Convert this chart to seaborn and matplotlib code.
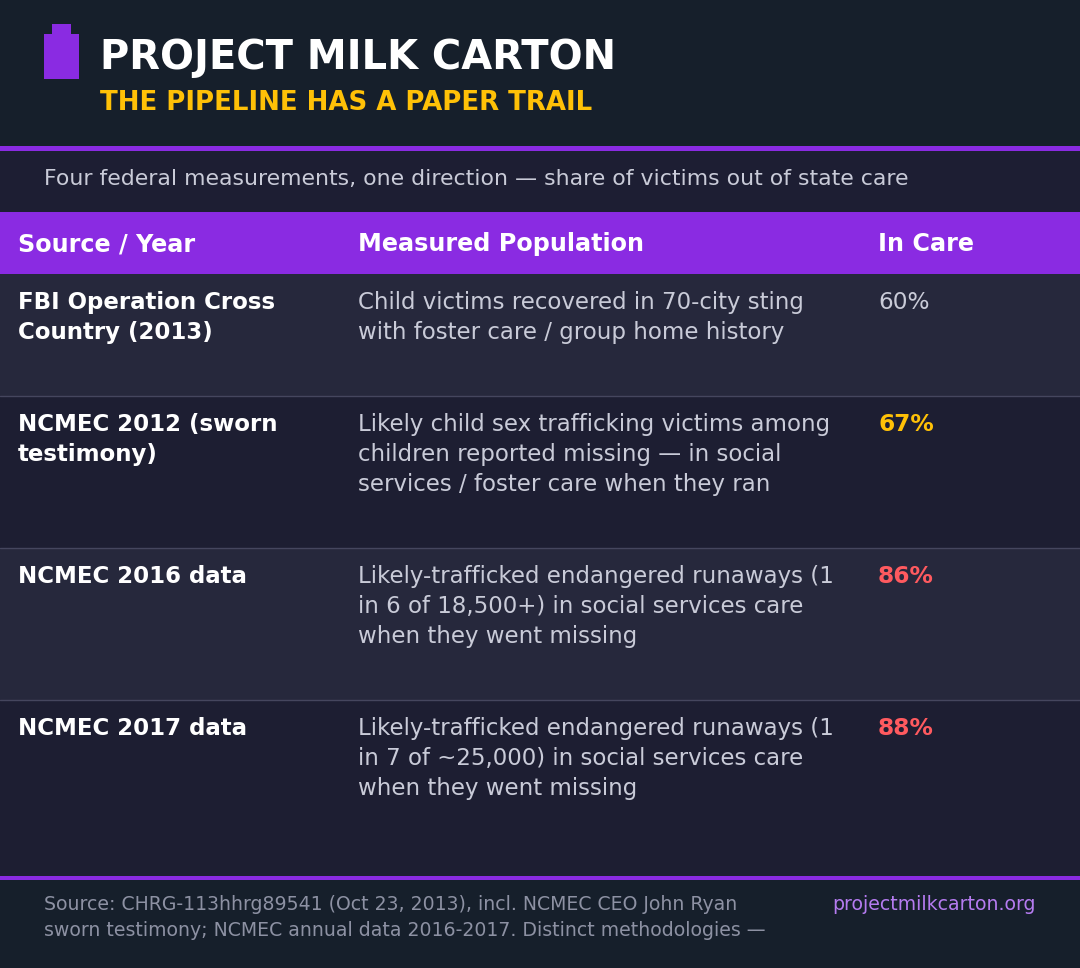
import matplotlib
matplotlib.use("Agg")
import matplotlib.pyplot as plt
from matplotlib.patches import Rectangle
import seaborn as sns

title = "PROJECT MILK CARTON"
tagline = "THE PIPELINE HAS A PAPER TRAIL"
subhead = "Four federal measurements, one direction \u2014 share of victims out of state care"
columns = ["Source / Year", "Measured Population", "In Care"]
sources = [
    ["FBI Operation Cross", "Country (2013)"],
    ["NCMEC 2012 (sworn", "testimony)"],
    ["NCMEC 2016 data"],
    ["NCMEC 2017 data"],
]
populations = [
    ["Child victims recovered in 70-city sting", "with foster care / group home history"],
    ["Likely child sex trafficking victims among",
     "children reported missing \u2014 in social",
     "services / foster care when they ran"],
    ["Likely-trafficked endangered runaways (1",
     "in 6 of 18,500+) in social services care",
     "when they went missing"],
    ["Likely-trafficked endangered runaways (1",
     "in 7 of ~25,000) in social services care",
     "when they went missing"],
]
in_care = [60, 67, 86, 88]
footer = ["Source: CHRG-113hhrg89541 (Oct 23, 2013), incl. NCMEC CEO John Ryan",
          "sworn testimony; NCMEC annual data 2016-2017. Distinct methodologies \u2014"]
site = "projectmilkcarton.org"

# colours
BG = "#161f2b"
BAND = "#1d1e33"
ROW_A = "#26283c"
ROW_B = "#1d1e32"
PURPLE = "#8a2be2"
YELLOW = "#ffc107"
RED = "#ff5a5f"
TEXT = "#c9cbd8"

sns.set_theme(style="dark")
plt.rcParams["font.family"] = ["DejaVu Sans"]

W, H = 1080, 968
fig = plt.figure(figsize=(W / 100, H / 100), dpi=100)
fig.patch.set_facecolor(BG)
ax = fig.add_axes([0, 0, 1, 1])
ax.set_xlim(0, W)
ax.set_ylim(H, 0)
ax.axis("off")

def px(v):
    return v * 72 / 100

def band(y0, y1, color):
    ax.add_patch(Rectangle((0, y0), W, y1 - y0, facecolor=color, edgecolor="none"))

# header
band(0, 147, BG)
ax.add_patch(Rectangle((44, 34), 35, 45, facecolor=PURPLE, edgecolor="none"))
ax.add_patch(Rectangle((52, 24), 19, 11, facecolor=PURPLE, edgecolor="none"))
ax.text(100, 69, title, color="white", fontsize=px(40), fontweight="bold", va="baseline")
ax.text(100, 110, tagline, color=YELLOW, fontsize=px(26), fontweight="bold", va="baseline")

band(146, 151, PURPLE)
band(151, 212, BAND)
ax.text(44, 185, subhead, color=TEXT, fontsize=px(22), va="baseline")

# column header
col_x = [18, 358, 878]
band(212, 274, PURPLE)
for x, c in zip(col_x, columns):
    ax.text(x, 251, c, color="white", fontsize=px(23.9), fontweight="bold", va="baseline")

# rows
row_edges = [274, 396, 548, 700, 876]
for i in range(len(in_care)):
    y0, y1 = row_edges[i], row_edges[i + 1]
    band(y0, y1, ROW_A if i % 2 == 0 else ROW_B)
    if i > 0:
        ax.plot([0, W], [y0, y0], color="#45465e", lw=1)
    for j, line in enumerate(sources[i]):
        ax.text(col_x[0], y0 + 35 + 30 * j, line, color="white", fontsize=px(22.9),
                fontweight="bold", va="baseline")
    for j, line in enumerate(populations[i]):
        ax.text(col_x[1], y0 + 35 + 30 * j, line, color=TEXT, fontsize=px(22.9), va="baseline")
    v = in_care[i]
    if v < 65:
        color, weight = TEXT, "normal"
    elif v < 80:
        color, weight = YELLOW, "bold"
    else:
        color, weight = RED, "bold"
    ax.text(col_x[2], y0 + 35, f"{v}%", color=color, fontsize=px(23.2),
            fontweight=weight, va="baseline")

# footer
band(876, 880, PURPLE)
band(880, H, BG)
for j, line in enumerate(footer):
    ax.text(44, 910 + 26 * j, line, color="#8d91a3", fontsize=px(18.9), va="baseline")
ax.text(1036, 910, site, color="#b57bf0", fontsize=px(18.9), va="baseline", ha="right")

fig.savefig("out.png", dpi=100, facecolor=BG)
